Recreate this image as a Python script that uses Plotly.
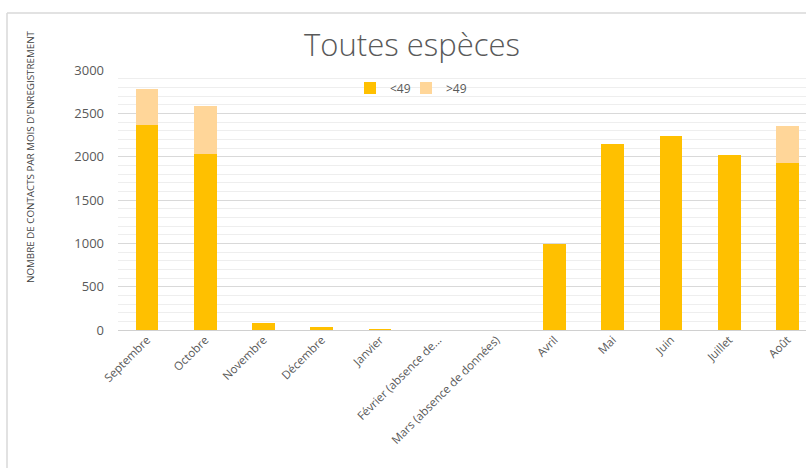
import plotly.graph_objects as go

months = ["Septembre", "Octobre", "Novembre", "Décembre", "Janvier",
          "Février (absence de...", "Mars (absence de données)",
          "Avril", "Mai", "Juin", "Juillet", "Août"]
below49 = [2360, 2035, 85, 38, 10, 0, 0, 990, 2145, 2240, 2015, 1922]
above49 = [420, 545, 0, 0, 0, 0, 0, 0, 0, 0, 0, 430]

c_low = "#FFC000"
c_high = "#FFD699"
grey = "#595959"

L, R, T, B = 118, 806, 70, 330
W, H = 806, 468
pw = R - L

fig = go.Figure()
fig.add_trace(go.Bar(x=months, y=below49, name="<49", legend="legend",
                     marker=dict(color=c_low, line=dict(width=0))))
fig.add_trace(go.Bar(x=months, y=above49, name=">49", legend="legend2",
                     marker=dict(color=c_high, line=dict(width=0))))

leg_common = dict(orientation="h", xanchor="left", y=(B - 88) / (B - T), yanchor="middle",
                  font=dict(size=12, color=grey), bgcolor="rgba(0,0,0,0)", itemwidth=30,
                  itemclick=False)

fig.update_layout(
    width=W, height=H,
    margin=dict(l=L, r=W - R, t=T, b=H - B, pad=0, autoexpand=False),
    barmode="stack", bargap=0.61,
    paper_bgcolor="white", plot_bgcolor="white",
    font=dict(family="Open Sans, DejaVu Sans, sans-serif", color=grey),
    title=dict(text="Toutes espèces", x=412 / W, xanchor="center", y=1 - 45 / H, yanchor="middle",
               font=dict(size=31, color=grey, family="Open Sans, sans-serif", weight=300)),
    legend=dict(x=(350 - L) / pw, **leg_common),
    legend2=dict(x=(406 - L) / pw, **leg_common),
    showlegend=True,
    xaxis=dict(range=[-0.5, 11.32], tickangle=-45, tickfont=dict(size=11.5, color=grey),
               showgrid=False, showline=False, ticks="", zeroline=False, fixedrange=True,
               automargin=False),
    yaxis=dict(range=[0, 3000], dtick=500, tickfont=dict(size=13, color=grey),
               showgrid=True, gridcolor="#d9d9d9", gridwidth=1,
               minor=dict(dtick=100, showgrid=True, gridcolor="#eeeeee", gridwidth=1),
               zeroline=True, zerolinecolor="#d0d0d0", zerolinewidth=1,
               showline=False, ticks="", ticklabelstandoff=13, fixedrange=True,
               automargin=False),
    annotations=[dict(text="NOMBRE DE CONTACTS PAR MOIS D'ENREGISTREMENT", textangle=-90,
                      xref="paper", yref="paper", x=(30 - L) / pw, y=(B - 157) / (B - T),
                      xanchor="center", yanchor="middle", showarrow=False,
                      font=dict(size=9.8, color="#404040"))],
    shapes=[
        dict(type="line", xref="paper", yref="paper", x0=(7 - L) / pw, x1=1.05,
             y0=(B - 13) / (B - T), y1=(B - 13) / (B - T), line=dict(color="#d9d9d9", width=1.5)),
        dict(type="line", xref="paper", yref="paper", x0=(7 - L) / pw, x1=(7 - L) / pw,
             y0=(B - 13) / (B - T), y1=(B - H) / (B - T), line=dict(color="#d9d9d9", width=1.5)),
    ],
)

fig.write_html("out.html", config={"displayModeBar": False},
               post_script="document.body.style.margin='0';document.body.style.overflow='hidden';")
